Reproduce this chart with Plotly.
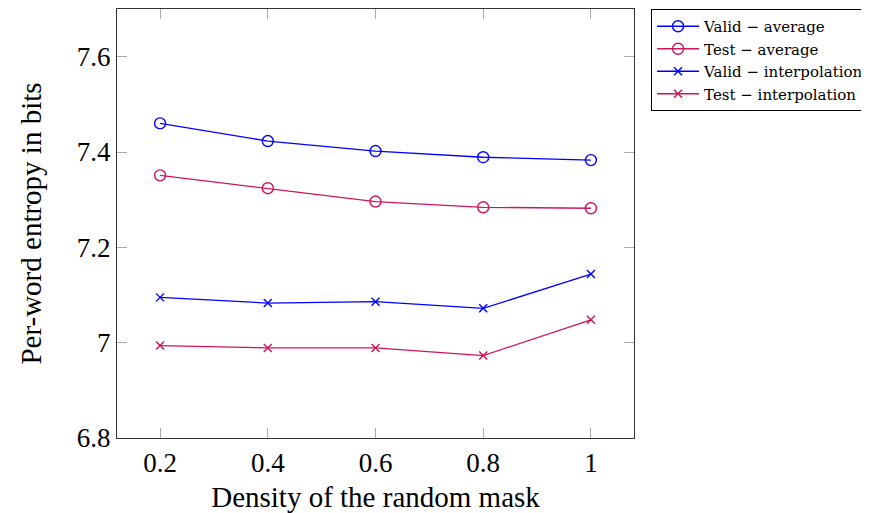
import plotly.graph_objects as go

density = [0.2, 0.4, 0.6, 0.8, 1.0]
valid_average = [7.460, 7.423, 7.402, 7.389, 7.383]
test_average = [7.351, 7.324, 7.296, 7.284, 7.282]
valid_interp = [7.095, 7.083, 7.086, 7.072, 7.144]
test_interp = [6.994, 6.989, 6.989, 6.973, 7.048]

x_ticks = [0.2, 0.4, 0.6, 0.8, 1.0]
x_ticktext = ["0.2", "0.4", "0.6", "0.8", "1"]
y_ticks = [6.8, 7.0, 7.2, 7.4, 7.6]
y_ticktext = ["6.8", "7", "7.2", "7.4", "7.6"]

BLUE = "#0000FF"
RED = "#D0145A"
FONT = "Liberation Serif"

series = [
    ("Valid \u2212 average", valid_average, BLUE, "circle-open"),
    ("Test \u2212 average", test_average, RED, "circle-open"),
    ("Valid \u2212 interpolation", valid_interp, BLUE, "x-thin-open"),
    ("Test \u2212 interpolation", test_interp, RED, "x-thin-open"),
]

fig = go.Figure()
for name, vals, col, sym in series:
    fig.add_trace(go.Scatter(
        x=density, y=vals, name=name, mode="lines+markers",
        line=dict(color=col, width=1.3),
        marker=dict(symbol=sym, size=11 if "circle" in sym else 8, color=col,
                    line=dict(color=col, width=1.4)),
    ))

axis_common = dict(
    showgrid=False, zeroline=False, showline=True, linecolor="#333333", linewidth=1.3,
    mirror="ticks", ticks="inside", ticklen=10, tickcolor="#AAAAAA", tickwidth=1,
    tickfont=dict(family=FONT, size=27, color="black"),
)

# page body has an 8px offset; margins compensate so the plot area lands at 117..634 x 8..438
fig.update_layout(
    width=869, height=513,
    margin=dict(l=109, r=243, t=1, b=83),
    paper_bgcolor="white", plot_bgcolor="white",
    font=dict(family=FONT, color="black"),
    xaxis=dict(range=[0.12, 1.08], tickvals=x_ticks, ticktext=x_ticktext,
               title=dict(text="Density of the random mask", font=dict(family=FONT, size=29), standoff=10),
               **axis_common),
    yaxis=dict(range=[6.8, 7.7], tickvals=y_ticks, ticktext=y_ticktext,
               title=dict(text="Per-word entropy in bits", font=dict(family=FONT, size=29), standoff=26),
               **axis_common),
    legend=dict(x=1.033, y=1.0, xanchor="left", yanchor="top",
                bordercolor="black", borderwidth=1, bgcolor="white",
                font=dict(family="DejaVu Serif", size=15), tracegroupgap=0,
                itemwidth=42),
    showlegend=True,
)

fig.write_html("out.html")
